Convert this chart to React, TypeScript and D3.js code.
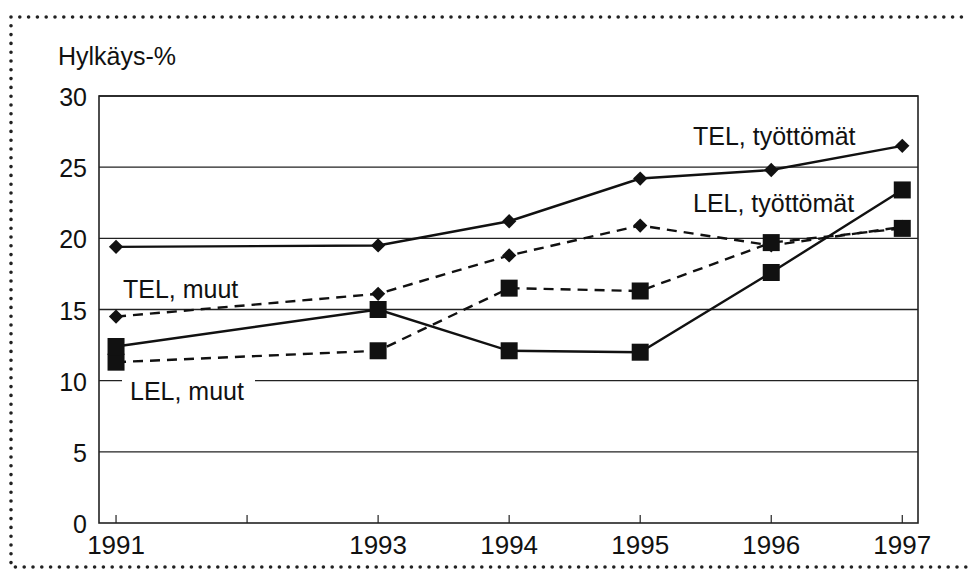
import * as React from 'react';
import * as d3 from 'd3';

const years = [1991, 1993, 1994, 1995, 1996, 1997];
const axisYears = [1991, 1992, 1993, 1994, 1995, 1996, 1997];
const labelYears = [1991, 1993, 1994, 1995, 1996, 1997];
const yTicks = [0, 5, 10, 15, 20, 25, 30];

const telTyottomat = [19.4, 19.5, 21.2, 24.2, 24.8, 26.5];
const telMuut = [14.5, 16.1, 18.8, 20.9, 19.5, 20.8];
const lelTyottomat = [12.4, 15.0, 12.1, 12.0, 17.6, 23.4];
const lelMuut = [11.3, 12.1, 16.5, 16.3, 19.7, 20.7];

const series = [
  { name: 'TEL, työttömät', values: telTyottomat, marker: 'diamond', dashed: false },
  { name: 'TEL, muut', values: telMuut, marker: 'diamond', dashed: true },
  { name: 'LEL, muut', values: lelMuut, marker: 'square', dashed: true },
  { name: 'LEL, työttömät', values: lelTyottomat, marker: 'square', dashed: false },
];

const W = 970;
const H = 581;
const margin = { top: 96, right: 52, bottom: 58, left: 99 };
const font = 'Arial, "Liberation Sans", sans-serif';

export default function App() {
  const innerW = W - margin.left - margin.right;
  const innerH = H - margin.top - margin.bottom;

  const x = d3.scaleLinear().domain([1990.87, 1997.12]).range([0, innerW]);
  const y = d3.scaleLinear().domain([0, 30]).range([innerH, 0]);

  const line = d3
    .line<number>()
    .x((d, i) => x(years[i]))
    .y(d => y(d));

  const diamond = d3.symbol().type(d3.symbolDiamond2).size(130)();

  return (
    <svg
      width={W}
      height={H}
      style={{ position: 'absolute', left: 0, top: 0, background: '#fff' }}
      fontFamily={font}
    >
      {/* dotted frame */}
      <path
        d="M11,17 H970 M11,17 V567 H970"
        fill="none"
        stroke="#222"
        strokeWidth={3.6}
        strokeLinecap="round"
        strokeDasharray="0 8.8"
      />
      <text x={58} y={65} fontSize={25} fill="#111">
        Hylkäys-%
      </text>
      <g transform={`translate(${margin.left},${margin.top})`}>
        {yTicks.map(t => (
          <g key={t}>
            {t > 0 && (
              <line x1={0} x2={innerW} y1={y(t)} y2={y(t)} stroke="#222" strokeWidth={1.3} />
            )}
            <text
              x={-12}
              y={y(t)}
              dy="0.4em"
              textAnchor="end"
              fontSize={25}
              fill="#111"
            >
              {t}
            </text>
          </g>
        ))}
        <rect x={0} y={0} width={innerW} height={innerH} fill="none" stroke="#222" strokeWidth={1.6} />
        {axisYears.map(yr => (
          <line
            key={yr}
            x1={x(yr)}
            x2={x(yr)}
            y1={innerH}
            y2={innerH - 8}
            stroke="#222"
            strokeWidth={1.2}
          />
        ))}
        {labelYears.map(yr => (
          <text
            key={yr}
            x={x(yr)}
            y={innerH + 31}
            textAnchor="middle"
            fontSize={26}
            fill="#111"
          >
            {yr}
          </text>
        ))}

        {series.map(s => (
          <g key={s.name}>
            <path
              d={line(s.values) || ''}
              fill="none"
              stroke="#111"
              strokeWidth={2.4}
              strokeDasharray={s.dashed ? '10 7' : undefined}
            />
            {s.values.map((v, i) =>
              s.marker === 'diamond' ? (
                <path
                  key={i}
                  d={diamond || ''}
                  transform={`translate(${x(years[i])},${y(v)})`}
                  fill="#111"
                />
              ) : (
                <rect
                  key={i}
                  x={x(years[i]) - 8.5}
                  y={y(v) - 8.5}
                  width={17}
                  height={17}
                  fill="#111"
                />
              )
            )}
          </g>
        ))}

        {/* series labels */}
        <rect x={23} y={y(10) - 6} width={133} height={26} fill="#fff" />
        <text x={31} y={304} fontSize={25} fill="#111">
          LEL, muut
        </text>
        <text x={24} y={202} fontSize={25} fill="#111">
          TEL, muut
        </text>
        <text x={594} y={49} fontSize={25} fill="#111">
          TEL, työttömät
        </text>
        <text x={594} y={116} fontSize={25} fill="#111">
          LEL, työttömät
        </text>
      </g>
    </svg>
  );
}
